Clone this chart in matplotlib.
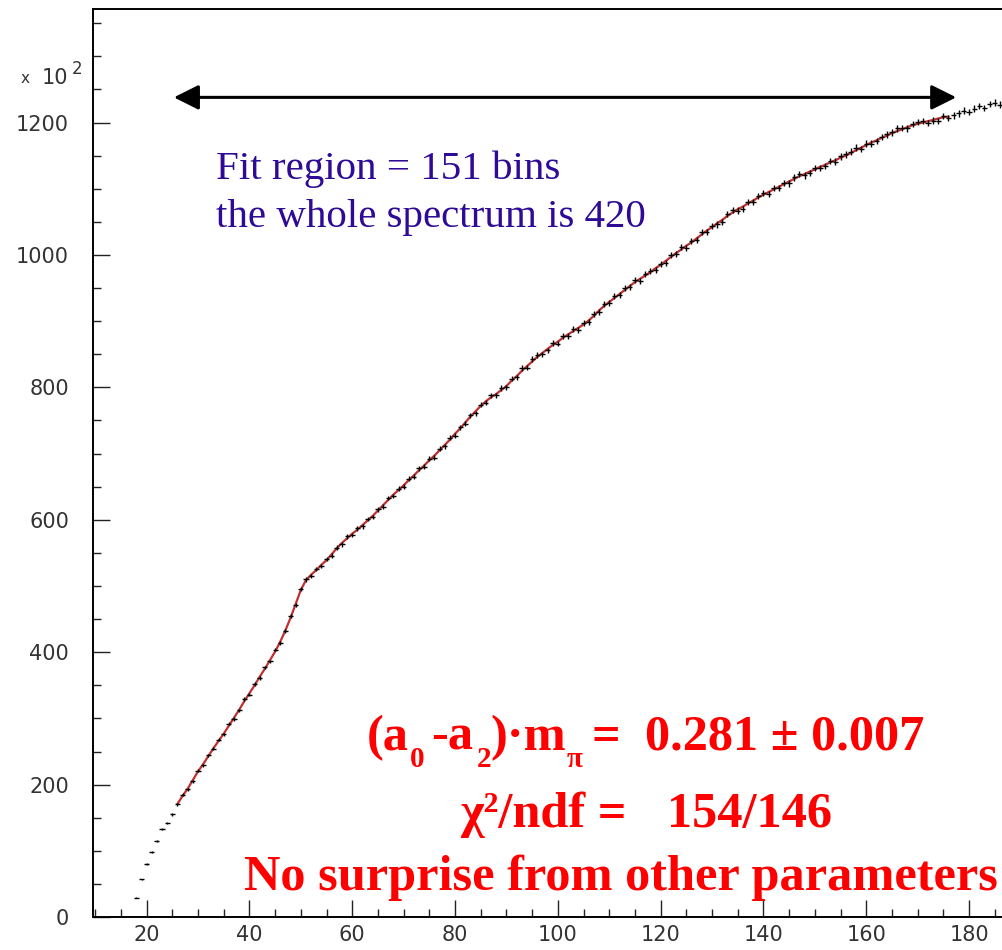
import numpy as np
import matplotlib.pyplot as plt
from matplotlib.ticker import MultipleLocator

# histogram contents (units of 10^2), one bin per unit, centres 18 .. 187
first_bin = 18
counts = [
    29, 57, 80, 98, 115, 133, 142, 155,
    170, 185, 193, 205, 221, 229, 244, 254, 268, 276,
    292, 299, 312, 329, 336, 352, 361, 377, 386, 404,
    414, 432, 455, 471, 496, 510, 515, 526, 530, 541,
    546, 558, 563, 575, 577, 587, 590, 601, 604, 616,
    620, 633, 636, 647, 650, 662, 665, 678, 680, 692,
    694, 707, 711, 724, 727, 740, 745, 758, 761, 774,
    777, 788, 788, 799, 800, 813, 815, 829, 830, 843,
    849, 850, 856, 867, 866, 878, 878, 888, 887, 897,
    899, 911, 914, 926, 927, 938, 939, 950, 951, 962,
    961, 971, 976, 977, 987, 988, 1000, 1001, 1012, 1011,
    1021, 1023, 1034, 1035, 1044, 1046, 1050, 1062, 1068, 1067,
    1070, 1080, 1080, 1089, 1093, 1092, 1101, 1101, 1109, 1108,
    1117, 1122, 1120, 1124, 1131, 1131, 1134, 1142, 1141, 1149,
    1152, 1156, 1162, 1160, 1168, 1168, 1172, 1178, 1182, 1185,
    1191, 1192, 1191, 1198, 1201, 1202, 1199, 1203, 1202, 1210,
    1207, 1211, 1214, 1218, 1216, 1221, 1225, 1222, 1228, 1230,
    1227, 1231,
]

# fitted function over the 151-bin fit region, centres 26 .. 176
fit_first = 26
fit_vals = [
    171, 183, 194, 207, 220, 231, 243, 255, 266, 277,
    289, 301, 313, 326, 338, 350, 363, 375, 388, 401,
    416, 433, 452, 473, 494, 509, 517, 524, 532, 539,
    548, 557, 565, 572, 579, 585, 592, 599, 606, 614,
    622, 630, 638, 645, 652, 660, 667, 675, 682, 690,
    697, 705, 713, 721, 730, 738, 747, 756, 764, 772,
    779, 785, 790, 796, 802, 810, 817, 825, 832, 839,
    846, 852, 858, 864, 869, 875, 880, 885, 890, 895,
    901, 908, 916, 923, 929, 935, 941, 947, 953, 959,
    964, 969, 974, 980, 985, 991, 997, 1003, 1008, 1014,
    1019, 1025, 1031, 1037, 1042, 1048, 1053, 1059, 1064, 1069,
    1073, 1078, 1082, 1087, 1091, 1095, 1099, 1103, 1107, 1111,
    1115, 1119, 1122, 1126, 1129, 1133, 1136, 1140, 1143, 1147,
    1150, 1154, 1158, 1162, 1166, 1170, 1173, 1177, 1180, 1184,
    1187, 1190, 1193, 1196, 1198, 1200, 1202, 1204, 1206, 1208,
    1209,
]

xticks = [20, 40, 60, 80, 100, 120, 140, 160, 180]
yticks = [0, 200, 400, 600, 800, 1000, 1200]

counts = np.array(counts, dtype=float)
x = first_bin + np.arange(len(counts))
xf = fit_first + np.arange(len(fit_vals))
yerr = np.sqrt(counts) / 7

W, H = 1003, 950
fig = plt.figure(figsize=(W / 100, H / 100), dpi=100)
ax = fig.add_axes([0.0924, 0.0347, 0.925, 0.9555])

ax.plot(xf, fit_vals, color="#c03030", lw=1.6, zorder=2)
ax.errorbar(x, counts, xerr=0.5, yerr=yerr, fmt="none",
            ecolor="black", elinewidth=1.0, capsize=0, zorder=3)

ax.set_xlim(9.5, 190)
ax.set_ylim(0, 1371)
ax.set_xticks(xticks)
ax.set_yticks(yticks)
ax.xaxis.set_minor_locator(MultipleLocator(5))
ax.yaxis.set_minor_locator(MultipleLocator(50))
ax.tick_params(which="both", direction="in", width=1.0, color="#222222",
               labelsize=15, labelcolor="#333333")
ax.tick_params(which="major", length=12)
ax.tick_params(which="minor", length=6)
ax.tick_params(axis="x", pad=6)
ax.tick_params(axis="y", pad=17)
for lab in ax.get_xticklabels() + ax.get_yticklabels():
    lab.set_fontfamily("DejaVu Sans")
for side in ["left", "bottom", "top"]:
    ax.spines[side].set_linewidth(1.4)
ax.spines["right"].set_visible(False)


def px(xp, yp):
    return xp / W, 1 - yp / H


# exponent marker for the y axis
fig.text(*px(21, 83), "x", fontsize=11, color="#333333", family="DejaVu Sans")
fig.text(*px(42, 84), "10", fontsize=15, color="#333333", family="DejaVu Sans")
fig.text(*px(72, 74), "2", fontsize=12, color="#333333", family="DejaVu Sans")

# fit region arrow
ax.annotate("", xy=(25.3, 1238), xytext=(177.5, 1238),
            arrowprops=dict(arrowstyle="<|-|>", color="black", lw=2.2,
                            mutation_scale=38, shrinkA=0, shrinkB=0))

blue = dict(fontsize=29.5, color="#2e0a96", family="Liberation Serif",
            va="baseline", ha="left")
fig.text(*px(216, 179), "Fit region = 151 bins", **blue)
fig.text(*px(216, 227), "the whole spectrum is 420", **blue)

# fit result, built from pieces so the subscripts sit low and small
big = 36.3
small = 21
red = dict(color="red", family="Liberation Serif", weight="bold",
           va="baseline", ha="left")
line1 = [
    ("(a", 367, 750, big),
    ("0", 410, 767, small),
    ("-a", 431, 750, big),
    ("2", 477, 767, small),
    (")·m", 490, 750, big),
    ("π", 567, 767, small),
    ("=", 592, 750, big),
    ("0.281 ± 0.007", 645, 750, big),
]
for s, xp, yp, fs in line1:
    fig.text(*px(xp, yp), s, fontsize=fs, **red)

fig.text(*px(627, 827), "χ²/ndf =", fontsize=big,
         **{**red, "ha": "right"})
fig.text(*px(667, 827), "154/146", fontsize=big, **red)
fig.text(*px(621, 890), "No surprise from other parameters", fontsize=big,
         **{**red, "ha": "center"})

fig.savefig("out.png", dpi=100)
